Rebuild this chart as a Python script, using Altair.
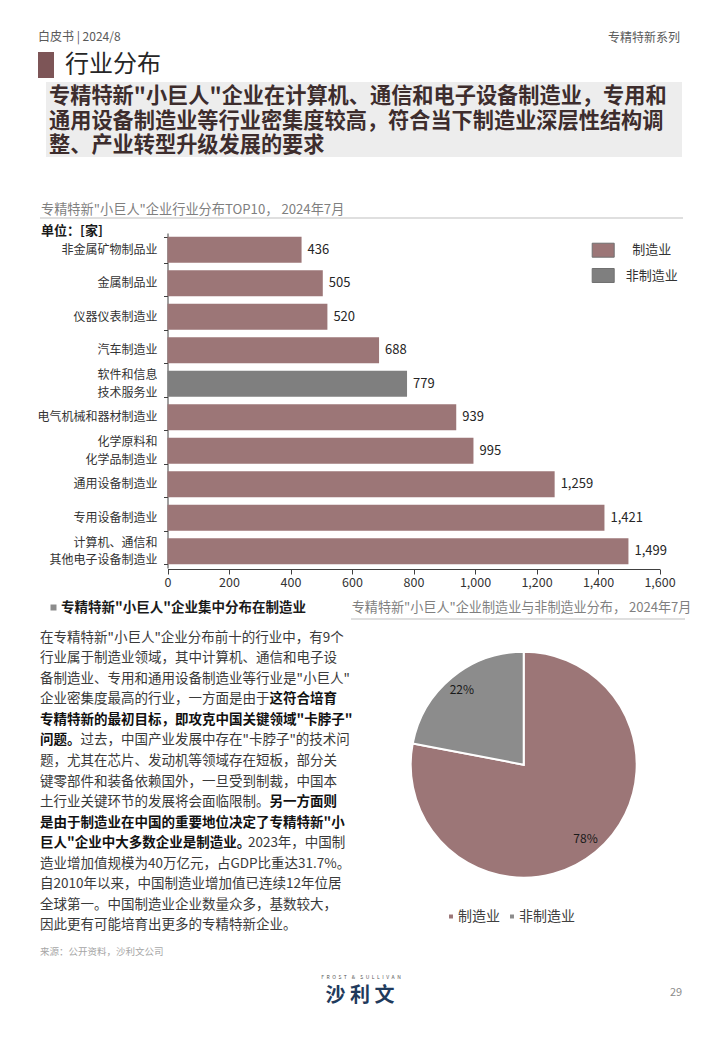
import altair as alt
import pandas as pd

# ---------------- data ----------------
industries = ["非金属矿物制品业", "金属制品业", "仪器仪表制造业", "汽车制造业",
              "软件和信息|技术服务业", "电气机械和器材制造业", "化学原料和 |化学品制造业",
              "通用设备制造业", "专用设备制造业", "计算机、通信和 |其他电子设备制造业"]
counts = [436, 505, 520, 688, 779, 939, 995, 1259, 1421, 1499]
sectors = ["制造业", "制造业", "制造业", "制造业", "非制造业",
           "制造业", "制造业", "制造业", "制造业", "制造业"]
x_ticks = [0, 200, 400, 600, 800, 1000, 1200, 1400, 1600]
sector_names = ["制造业", "非制造业"]

pie_groups = ["制造业", "非制造业"]
pie_shares = [78, 22]
pie_labels = ["78%", "22%"]

header_left = "白皮书 | 2024/8"
header_right = "专精特新系列"
section_title = "行业分布"
headline = ["专精特新\"小巨人\"企业在计算机、通信和电子设备制造业，专用和",
            "通用设备制造业等行业密集度较高，符合当下制造业深层性结构调",
            "整、产业转型升级发展的要求"]
bar_title = "专精特新\"小巨人\"企业行业分布TOP10， 2024年7月"
unit_text = "单位：[家]"
pie_title = "专精特新\"小巨人\"企业制造业与非制造业分布， 2024年7月"
para_heading = "专精特新\"小巨人\"企业集中分布在制造业"
para_lines = [
    [("在专精特新\"小巨人\"企业分布前十的行业中，有9个", False)],
    [("行业属于制造业领域，其中计算机、通信和电子设", False)],
    [("备制造业、专用和通用设备制造业等行业是\"小巨人\"", False)],
    [("企业密集度最高的行业，一方面是由于", False), ("这符合培育", True)],
    [("专精特新的最初目标，即攻克中国关键领域\"卡脖子\"", True)],
    [("问题。", True), ("过去，中国产业发展中存在\"卡脖子\"的技术问", False)],
    [("题，尤其在芯片、发动机等领域存在短板，部分关", False)],
    [("键零部件和装备依赖国外，一旦受到制裁，中国本", False)],
    [("土行业关键环节的发展将会面临限制。", False), ("另一方面则", True)],
    [("是由于制造业在中国的重要地位决定了专精特新\"小", True)],
    [("巨人\"企业中大多数企业是制造业。", True), ("2023年，中国制", False)],
    [("造业增加值规模为40万亿元，占GDP比重达31.7%。", False)],
    [("自2010年以来，中国制造业增加值已连续12年位居", False)],
    [("全球第一。中国制造业企业数量众多，基数较大，", False)],
    [("因此更有可能培育出更多的专精特新企业。", False)],
]
source_text = "来源：公开资料，沙利文公司"
logo_small = "\u2002".join(list("FROST")) + "\u2002\u2002&\u2002\u2002" + "\u2002".join(list("SULLIVAN"))
logo_big = "沙 利 文"
page_no = "29"

# ---------------- helpers ----------------
FONT = "Noto Sans CJK SC"
OX, OY = 8, 8
ONE = alt.Data(values=[{"k": 0}])
BROWN = "#9c7677"


def txt(s, x, y, size=12, color="#333333", weight="normal", align="left",
        baseline="middle", line_height=None):
    extra = {}
    if line_height is not None:
        extra = dict(lineBreak="\n", lineHeight=line_height)
    return alt.Chart(ONE).mark_text(
        fontSize=size, color=color, fontWeight=weight, align=align,
        baseline=baseline, font=FONT, **extra
    ).encode(x=alt.value(x - OX), y=alt.value(y - OY), text=alt.value(s))


def box(x1, x2, y1, y2, color):
    return alt.Chart(ONE).mark_rect(color=color).encode(
        x=alt.value(x1 - OX), x2=alt.value(x2 - OX),
        y=alt.value(y1 - OY), y2=alt.value(y2 - OY))


def hline(x1, x2, y, color="#bfbfbf", w=1):
    return alt.Chart(ONE).mark_rule(color=color, strokeWidth=w).encode(
        x=alt.value(x1 - OX), x2=alt.value(x2 - OX), y=alt.value(y - OY))


def text_width(s, size):
    w = 0.0
    for ch in s:
        if ord(ch) > 0x2E80:
            w += 1.0
        elif ch == '"':
            w += 0.4
        elif ch.isdigit():
            w += 0.55
        elif ch in "GDP":
            w += 0.7
        elif ch == "%":
            w += 0.85
        elif ch == ".":
            w += 0.27
        elif ch == " ":
            w += 0.25
        else:
            w += 0.55
    return w * size


layers = []

# header
layers.append(txt(header_left, 38, 37, size=12, color="#595959"))
layers.append(txt(header_right, 680, 38, size=12, color="#595959", align="right"))
layers.append(box(38, 54, 52, 78, "#7d5557"))
layers.append(txt(section_title, 65, 65, size=24, color="#262626"))
layers.append(box(46, 682, 82, 157, "#ededed"))
layers.append(txt("\n".join(headline), 49, 97, size=21.2, color="#3d2d2d",
                  weight="bold", line_height=24.6))

# bar chart titles
layers.append(txt(bar_title, 41, 210, size=13.2, color="#7f7f7f"))
layers.append(hline(40, 683, 218))
layers.append(txt(unit_text, 41, 231, size=13, color="#1a1a1a", weight="bold"))

# ---------------- bar chart ----------------
bar_df = pd.DataFrame({"industry": industries, "count": counts, "sector": sectors})
bar_df["lines"] = bar_df["industry"].str.count(r"\|") + 1
x_enc = alt.X("count:Q",
              scale=alt.Scale(domain=[0, 1600], range=[167.5 - OX, 659.5 - OX]),
              axis=alt.Axis(values=x_ticks, format=",d", orient="bottom",
                            offset=(569 - OY) - 1024, grid=False,
                            domainColor="#404040", tickColor="#404040",
                            tickSize=5, labelFontSize=12.5, labelColor="#333333",
                            labelPadding=2, labelFlush=False, labelOverlap=False,
                            title=None))
y_enc = alt.Y("industry:N", sort=industries,
              scale=alt.Scale(range=[233 - OY, 568 - OY], paddingInner=0.22,
                              paddingOuter=0.11),
              axis=alt.Axis(orient="left", offset=-(167.5 - OX), tickBand="extent",
                            labels=False, tickSize=4,
                            domainColor="#404040", tickColor="#404040",
                            grid=False, title=None))
bars = alt.Chart(bar_df).mark_bar().encode(
    x=x_enc, y=y_enc,
    color=alt.Color("sector:N",
                    scale=alt.Scale(domain=sector_names, range=[BROWN, "#7f7f7f"]),
                    legend=alt.Legend(title=None, orient="none",
                                      legendX=591.7 - OX, legendY=238.7 - OY,
                                      symbolType="M-1,-0.636L1,-0.636L1,0.636L-1,0.636Z",
                                      symbolSize=484, symbolOpacity=1,
                                      symbolStrokeColor="#707070",
                                      symbolStrokeWidth=1,
                                      labelFontSize=13, labelColor="#333333",
                                      labelAlign="center", labelOffset=37,
                                      rowPadding=4.3, padding=0)),
)
bar_labels = alt.Chart(bar_df).mark_text(
    align="left", dx=6, fontSize=13, color="#262626", font=FONT
).encode(
    x=alt.X("count:Q"), y=alt.Y("industry:N", sort=industries),
    text=alt.Text("count:Q", format=",d"))

# category labels (one-line and two-line, centred on each band)
LBL_X = 157.5 - OX
cat_one = alt.Chart(bar_df).transform_filter("datum.lines == 1").mark_text(
    align="right", baseline="middle", fontSize=12, color="#333333", font=FONT
).encode(x=alt.value(LBL_X), y=alt.Y("industry:N", sort=industries),
         text="industry:N")
cat_two = alt.Chart(bar_df).transform_filter("datum.lines == 2").mark_text(
    align="right", baseline="middle", fontSize=12, color="#333333", font=FONT,
    lineBreak="|", lineHeight=17.5, dy=-8.75
).encode(x=alt.value(LBL_X), y=alt.Y("industry:N", sort=industries),
         text="industry:N")
layers += [bars, bar_labels, cat_one, cat_two]

# ---------------- left paragraph ----------------
layers.append(box(50.5, 56.5, 604.5, 610.5, "#8c8c8c"))
layers.append(txt(para_heading, 61, 607.7, size=13.5, color="#1a1a1a", weight="bold"))
PS = 13.5
for i, segs in enumerate(para_lines):
    xpos = 40
    for s, b in segs:
        layers.append(txt(s, xpos, 637.7 + i * 20.55, size=PS,
                          color="#111111" if b else "#3a3a3a",
                          weight="bold" if b else "normal"))
        xpos += text_width(s, PS)

# ---------------- pie chart ----------------
layers.append(txt(pie_title, 351.7, 607.7, size=13.1, color="#7f7f7f"))
layers.append(hline(351, 685, 619))

pie_df = pd.DataFrame({"group": pie_groups, "share": pie_shares,
                       "label": pie_labels, "rank": list(range(len(pie_groups)))})
CX, CY = 523.7 - OX, 764.7 - OY
pie = alt.Chart(pie_df).mark_arc(radius=113, stroke="white", strokeWidth=2).encode(
    theta=alt.Theta("share:Q", stack=True),
    order=alt.Order("rank:Q"),
    x=alt.value(CX), y=alt.value(CY),
    color=alt.Color("group:N",
                    scale=alt.Scale(domain=sector_names, range=[BROWN, "#8c8c8c"]),
                    legend=alt.Legend(title=None, orient="none", direction="horizontal",
                                      legendX=444 - OX, legendY=909.5 - OY,
                                      symbolType="square", symbolSize=30,
                                      symbolOpacity=1,
                                      labelFontSize=14, labelColor="#404040",
                                      labelOffset=0, columnPadding=5, padding=0)),
)
pie_text = alt.Chart(pie_df).mark_text(radius=97, fontSize=12, color="#1a1a1a",
                                       font=FONT).encode(
    theta=alt.Theta("share:Q", stack=True),
    order=alt.Order("rank:Q"),
    detail="group:N",
    x=alt.value(CX), y=alt.value(CY),
    text="label:N")
layers += [pie, pie_text]

# ---------------- footer ----------------
layers.append(txt(source_text, 40, 951.5, size=9.5, color="#a6a6a6"))
layers.append(txt(logo_small, 361, 977, size=5, color="#555555", align="center"))
layers.append(txt(logo_big, 360, 995.5, size=20, color="#1f3a5c", weight="bold",
                  align="center"))
layers.append(txt(page_no, 676, 993, size=11, color="#8c8c8c", align="center"))

chart = alt.layer(*layers).properties(
    width=704, height=1024,
    autosize=alt.AutoSizeParams(type="none"),
    padding=0, background="white",
).resolve_scale(color="independent").configure(font=FONT).configure_view(stroke=None)

chart.save("out.html", embed_options={"renderer": "svg", "actions": False})
